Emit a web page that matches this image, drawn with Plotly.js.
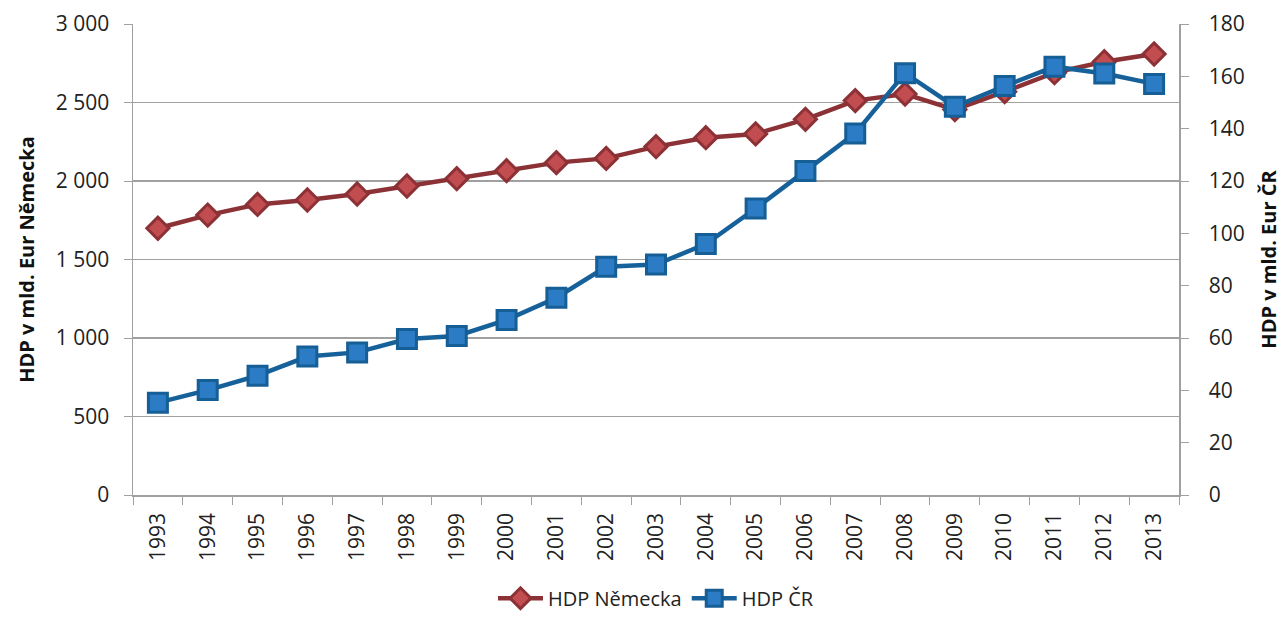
<!DOCTYPE html>
<html>
<head>
<meta charset="utf-8">
<script src="https://cdn.plot.ly/plotly-3.0.1.min.js"></script>
<style>html,body{margin:0;padding:0;background:#fff;}#chart{width:1282px;height:619px;}</style>
</head>
<body>
<div id="chart"></div>
<script>
var years = ["1993","1994","1995","1996","1997","1998","1999","2000","2001","2002","2003","2004","2005","2006","2007","2008","2009","2010","2011","2012","2013"];
var hdpNemecka = [1699,1783,1851,1879,1917,1968,2015,2066,2117,2144,2219,2276,2300,2393,2512,2554,2455,2569,2690,2760,2809];
var hdpCR = [35.3,40.1,45.6,52.9,54.5,59.6,60.8,66.9,75.4,87.2,88.1,95.9,109.5,123.8,138.2,161.2,148.4,156.3,163.7,161.1,157.1];
var nameDE = "HDP Německa";
var nameCR = "HDP ČR";
var titleLeft = "HDP v mld. Eur Německa";
var titleRight = "HDP v mld. Eur ČR";

var font = "'Open Sans', sans-serif";
var tickFont = {family: font, size: 21, color: "#222"};
var traces = [
  {x: years, y: hdpNemecka, name: nameDE, type: "scatter", mode: "lines+markers",
   line: {color: "#8C3236", width: 4.5},
   marker: {symbol: "diamond", size: 17, color: "#C24D50", line: {color: "#8C3236", width: 3}}},
  {x: years, y: hdpCR, name: nameCR, type: "scatter", mode: "lines+markers", yaxis: "y2",
   line: {color: "#17619B", width: 4.5},
   marker: {symbol: "square", size: 19, color: "#2B7CC4", line: {color: "#165E96", width: 3}}}
];
var layout = {
  width: 1282, height: 619,
  margin: {l: 133, r: 103, t: 24, b: 124, autoexpand: false},
  paper_bgcolor: "#fff", plot_bgcolor: "#fff",
  separators: ", ",
  font: {family: font, size: 21, color: "#222"},
  showlegend: true,
  legend: {orientation: "h", x: 0.5, xanchor: "center", y: -0.219, yanchor: "middle",
           font: {family: font, size: 20, color: "#222"}, itemwidth: 45, tracegroupgap: 0},
  xaxis: {type: "category", range: [-0.5, 20.5], autorange: false, tickson: "boundaries", ticks: "outside", ticklen: 8, tickcolor: "#A0A0A0",
          showline: true, linecolor: "#A0A0A0", linewidth: 1.5, showgrid: false, tickangle: -90,
          ticklabelstandoff: 8,
          tickfont: tickFont, automargin: false, zeroline: false},
  yaxis: {range: [0, 3000], autorange: false, dtick: 500, tick0: 0, separatethousands: true, ticks: "outside", ticklen: 8,
          tickcolor: "#A0A0A0", showline: true, linecolor: "#A0A0A0", linewidth: 1.5,
          showgrid: true, gridcolor: "#A0A0A0", gridwidth: 1.5, zeroline: false,
          ticklabelstandoff: 10,
          tickfont: tickFont, automargin: false,
          title: {text: titleLeft, font: {family: font, size: 20, color: "#111", weight: "bold"}, standoff: 16}},
  yaxis2: {range: [0, 180], autorange: false, dtick: 20, tick0: 0, overlaying: "y", side: "right", ticks: "outside", ticklen: 8,
          tickcolor: "#A0A0A0", showline: true, linecolor: "#A0A0A0", linewidth: 1.5, showgrid: false, zeroline: false,
          ticklabelstandoff: 16,
          tickfont: tickFont, automargin: false,
          title: {text: titleRight, font: {family: font, size: 20, color: "#111", weight: "bold"}, standoff: 22}}
};
Plotly.newPlot("chart", traces, layout, {displayModeBar: false, staticPlot: true});
</script>
</body>
</html>
